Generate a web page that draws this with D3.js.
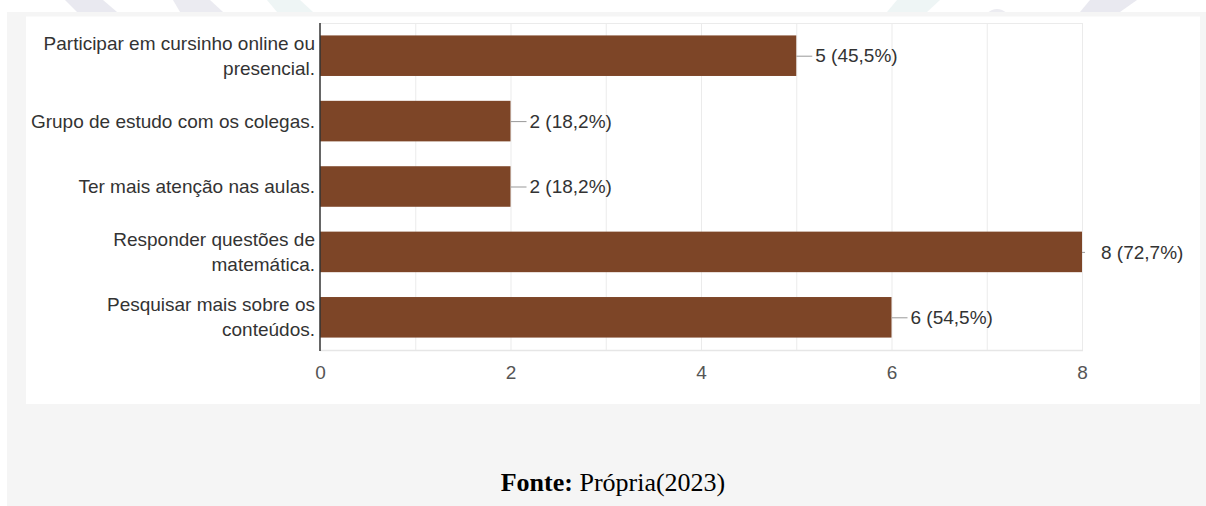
<!DOCTYPE html>
<html>
<head>
<meta charset="utf-8">
<script src="https://cdn.jsdelivr.net/npm/d3@7"></script>
<style>
  html, body { margin: 0; padding: 0; background: #ffffff; }
  svg { display: block; }
</style>
</head>
<body>
<svg id="chart" width="1206" height="506"></svg>
<script>
// ---- data ----
const categories = [
  "Participar em cursinho online ou presencial.",
  "Grupo de estudo com os colegas.",
  "Ter mais atenção nas aulas.",
  "Responder questões de matemática.",
  "Pesquisar mais sobre os conteúdos."
];
const categoryLines = [
  ["Participar em cursinho online ou", "presencial."],
  ["Grupo de estudo com os colegas."],
  ["Ter mais atenção nas aulas."],
  ["Responder questões de", "matemática."],
  ["Pesquisar mais sobre os", "conteúdos."]
];
const counts = [5, 2, 2, 8, 6];
const percents = ["45,5%", "18,2%", "18,2%", "72,7%", "54,5%"];
const tickValues = [0, 2, 4, 6, 8];
const gridValues = [1, 2, 3, 4, 5, 6, 7, 8];
const sourceBold = "Fonte:";
const sourceText = " Própria(2023)";

// ---- layout ----
const W = 1206, H = 506;
const svg = d3.select("#chart");
const FONT = "Arial, 'Liberation Sans', Helvetica, sans-serif";

// faint decorative background shapes at the very top
const deco = [
  {pts: [[65,0],[103,0],[117,12],[77,12]], fill: "#e9e9f0"},
  {pts: [[173,0],[210,0],[223,12],[180,12]], fill: "#ebebf1"},
  {pts: [[267,0],[300,0],[313,12],[277,12]], fill: "#eef5f5"},
  {pts: [[897,0],[940,0],[927,12],[887,12]], fill: "#eef5f5"},
  {pts: [[1090,0],[1137,0],[1120,12],[1080,12]], fill: "#e9e9f0"}
];
svg.selectAll("polygon.deco").data(deco).join("polygon")
  .attr("class", "deco")
  .attr("points", d => d.pts.map(p => p.join(",")).join(" "))
  .attr("fill", d => d.fill);
svg.append("circle").attr("cx", 997).attr("cy", 22).attr("r", 13).attr("fill", "#ececf1");

// grey page band
svg.append("rect").attr("x", 7).attr("y", 12).attr("width", W - 7).attr("height", H - 12).attr("fill", "#f5f5f5");
// white chart panel
svg.append("rect").attr("x", 26).attr("y", 16.5).attr("width", 1174).attr("height", 387.5).attr("fill", "#ffffff");

const x = d3.scaleLinear().domain([0, 8]).range([320, 1082]);
const y = d3.scaleBand().domain(categories).range([23, 350]).paddingInner(0.38).paddingOuter(0.19);

// gridlines
svg.append("g").selectAll("line").data(gridValues).join("line")
  .attr("x1", d => x(d) + 0.5).attr("x2", d => x(d) + 0.5)
  .attr("y1", y.range()[0]).attr("y2", y.range()[1])
  .attr("stroke", "#ebebeb").attr("stroke-width", 1);
// top and bottom border lines
svg.append("line").attr("x1", x(0)).attr("x2", x(8) + 1).attr("y1", y.range()[0] + 0.5).attr("y2", y.range()[0] + 0.5)
  .attr("stroke", "#ebebeb");
svg.append("line").attr("x1", x(0)).attr("x2", x(8) + 1).attr("y1", y.range()[1] + 0.5).attr("y2", y.range()[1] + 0.5)
  .attr("stroke", "#e6e6e6").attr("stroke-width", 1.5);

// bars
svg.append("g").selectAll("rect").data(categories).join("rect")
  .attr("x", x(0))
  .attr("y", d => y(d))
  .attr("width", (d, i) => x(counts[i]) - x(0))
  .attr("height", y.bandwidth())
  .attr("fill", "#7d4527");

// value annotations
const stemEnd = v => Math.min(x(v) + 16, x(8) + 3);
svg.append("g").selectAll("line").data(categories).join("line")
  .attr("x1", (d, i) => x(counts[i])).attr("x2", (d, i) => stemEnd(counts[i]))
  .attr("y1", d => y(d) + y.bandwidth() / 2 + 0.5).attr("y2", d => y(d) + y.bandwidth() / 2 + 0.5)
  .attr("stroke", "#999999").attr("stroke-width", 1);
svg.append("g").selectAll("text").data(categories).join("text")
  .attr("x", (d, i) => x(counts[i]) + 19)
  .attr("y", d => y(d) + y.bandwidth() / 2)
  .attr("dy", "0.35em")
  .attr("font-family", FONT).attr("font-size", 19).attr("fill", "#333333")
  .text((d, i) => `${counts[i]} (${percents[i]})`);

// axis line (vertical, left)
svg.append("line").attr("x1", x(0)).attr("x2", x(0))
  .attr("y1", y.range()[0]).attr("y2", y.range()[1] + 1)
  .attr("stroke", "#333333").attr("stroke-width", 1.5);

// category labels
const lab = svg.append("g").selectAll("text").data(categories).join("text")
  .attr("text-anchor", "end")
  .attr("font-family", FONT).attr("font-size", 19).attr("fill", "#333333");
lab.each(function(d, i) {
  const lines = categoryLines[i];
  const cy = y(d) + y.bandwidth() / 2;
  const step = 25;
  const start = cy - (lines.length - 1) * step / 2;
  d3.select(this).selectAll("tspan").data(lines).join("tspan")
    .attr("x", 315)
    .attr("y", (t, j) => start + j * step)
    .attr("dy", "0.35em")
    .text(t => t);
});

// x axis tick labels
const xAxis = d3.axisBottom(x).tickValues(tickValues).tickSize(0).tickPadding(0).tickFormat(d3.format("d"));
const gx = svg.append("g").attr("transform", `translate(0, 372)`).call(xAxis);
gx.select(".domain").remove();
gx.selectAll("text").attr("dy", "0.35em").attr("y", 0)
  .attr("font-family", FONT).attr("font-size", 19).attr("fill", "#555555");

// source line
const src = svg.append("text").attr("x", 613).attr("y", 491).attr("text-anchor", "middle")
  .attr("font-family", "'Times New Roman', 'Liberation Serif', serif").attr("font-size", 26).attr("fill", "#000");
src.append("tspan").attr("font-weight", "bold").text(sourceBold);
src.append("tspan").text(sourceText);
</script>
</body>
</html>
